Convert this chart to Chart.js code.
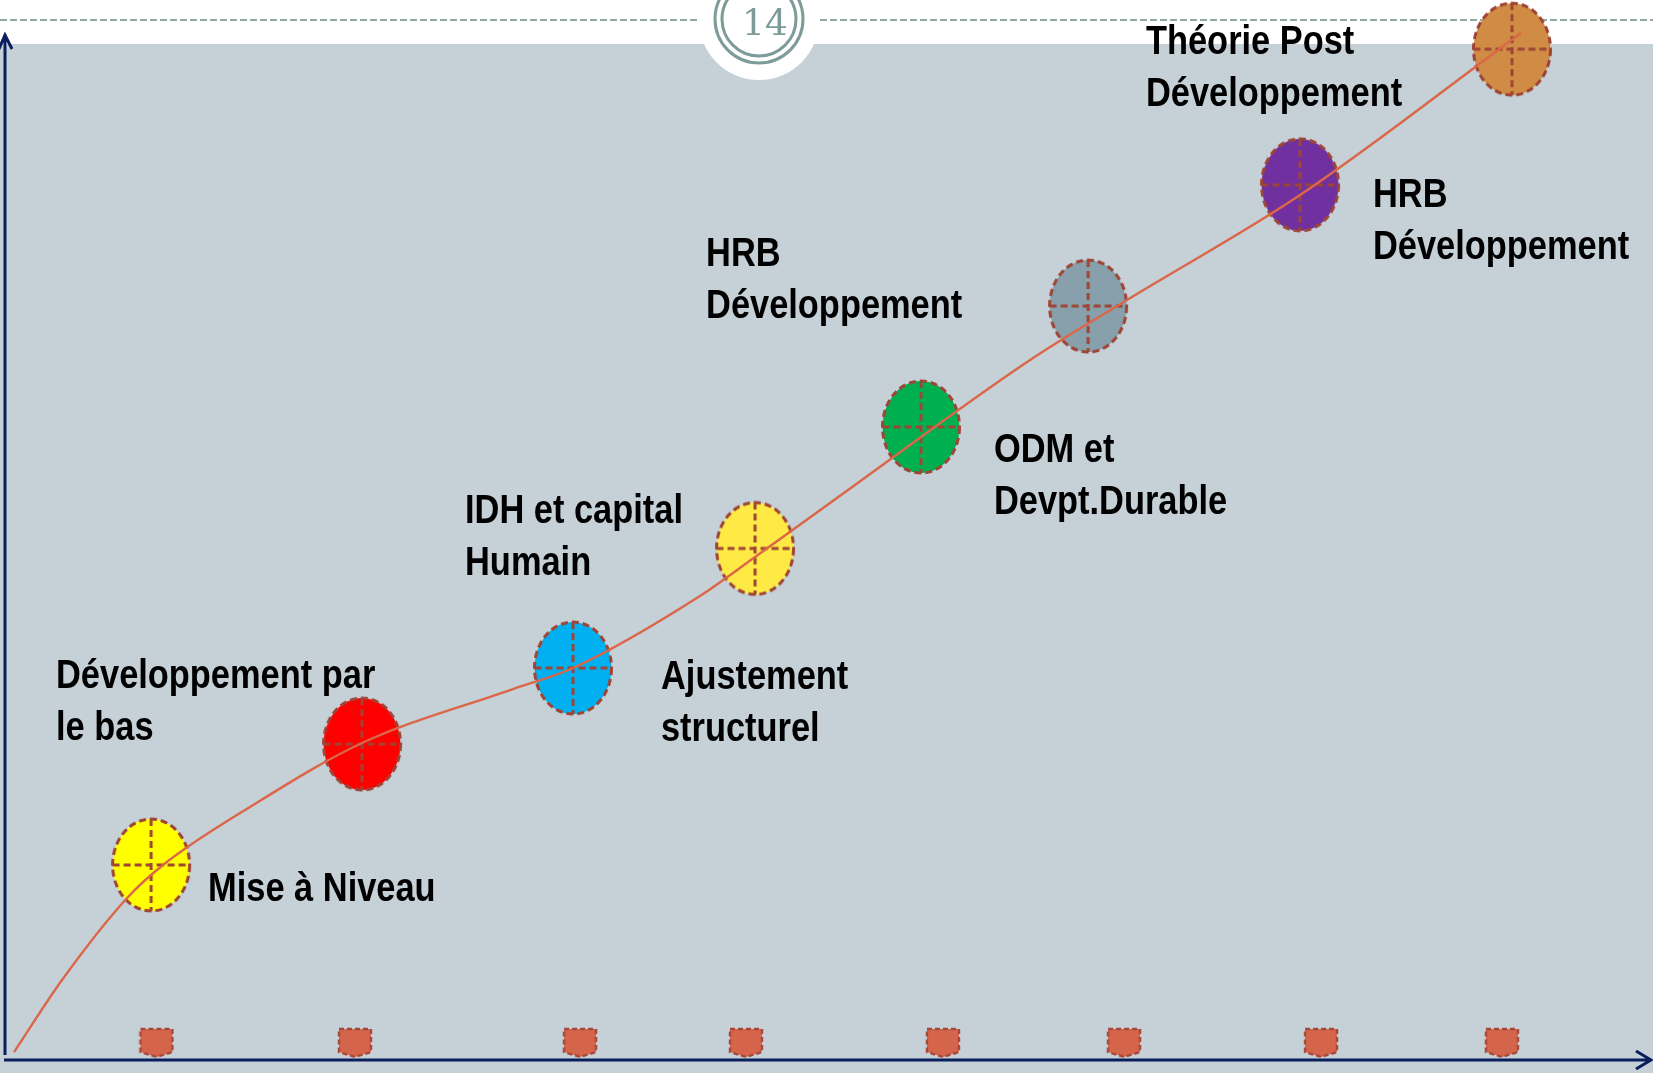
<!DOCTYPE html>
<html>
<head>
<meta charset="utf-8">
<script src="https://cdn.jsdelivr.net/npm/chart.js@4"></script>
<style>
html, body { margin: 0; padding: 0; background: #c5d0d7; overflow: hidden; }
</style>
</head>
<body>
<canvas id="myChart" width="1653" height="1073"></canvas>
<script>
//========== data ==========//

// stages (ellipses)
const stageX = [8.89, 21.73, 34.57, 45.65, 55.75, 65.92, 78.82, 91.72];
const stageY = [19.12, 30.98, 38.43, 50.15, 62.06, 73.92, 85.8, 99.1];
const stageColors = ['#ffff00', '#ff0000', '#00b0f0', '#ffe945', '#00b050', '#87a0ab', '#7030a0', '#d08c45'];
const stageLabels = [
    ['Mise à Niveau'],
    ['Développement par', 'le bas'],
    ['Ajustement', 'structurel'],
    ['IDH et capital', 'Humain'],
    ['ODM et', 'Devpt.Durable'],
    ['HRB', 'Développement'],
    ['HRB', 'Développement'],
    ['Théorie Post', 'Développement']
];

// trend curve
const curveX = [0.55, 3.47, 7.43, 9.62, 14.91, 21.73, 30.74, 34.57, 42.3, 45.65, 51.31, 62.39, 68.29, 78.82, 92.27];
const curveY = [0.78, 7.84, 15.88, 19.12, 24.8, 31.08, 36.27, 38.43, 45.49, 49.31, 55.88, 68.63, 74.51, 84.8, 100.69];

// markers on the time axis
const markerX = [9.22, 21.3, 35.0, 45.1, 57.09, 68.11, 80.1, 91.11];
const markerY = [1.67, 1.67, 1.67, 1.67, 1.67, 1.67, 1.67, 1.67];

// label offsets from each ellipse (px)
const labelOffsets = [[57, 36], [-306, -56], [88, 21], [-290, -25], [73, 35], [-382, -40], [73, 22], [-366, 5]];

//========== point images ==========//

function ellipseImg(fill) {
    const c = document.createElement('canvas');
    c.width = 84; c.height = 98;
    const ctx = c.getContext('2d');
    const cx = 42, cy = 49, rx = 38.5, ry = 46;
    ctx.beginPath();
    ctx.ellipse(cx, cy, rx, ry, 0, 0, Math.PI * 2);
    ctx.fillStyle = fill;
    ctx.fill();
    ctx.strokeStyle = '#9e4535';
    ctx.lineWidth = 3;
    ctx.setLineDash([7, 4]);
    ctx.stroke();
    ctx.beginPath();
    ctx.moveTo(cx - rx, cy); ctx.lineTo(cx + rx, cy);
    ctx.moveTo(cx, cy - ry); ctx.lineTo(cx, cy + ry);
    ctx.stroke();
    return c;
}

function shieldImg() {
    const c = document.createElement('canvas');
    c.width = 36; c.height = 32;
    const ctx = c.getContext('2d');
    ctx.beginPath();
    ctx.moveTo(2, 2); ctx.lineTo(34, 2); ctx.lineTo(34, 25);
    ctx.lineTo(18, 30); ctx.lineTo(2, 25); ctx.closePath();
    ctx.fillStyle = '#d4644a';
    ctx.fill();
    ctx.strokeStyle = '#a8473a';
    ctx.lineWidth = 2.4;
    ctx.setLineDash([5, 3]);
    ctx.stroke();
    return c;
}

const shield = shieldImg();

//========== plugins ==========//

const slideDeco = {
    id: 'slideDeco',
    beforeDatasetsDraw(chart) {
        const ctx = chart.ctx;
        ctx.save();
        ctx.fillStyle = '#c5d0d7';
        ctx.fillRect(0, 0, chart.width, chart.height);
        ctx.fillStyle = '#ffffff';
        ctx.fillRect(0, 0, chart.width, 44);
        // dashed line
        ctx.strokeStyle = '#8fa8a6';
        ctx.lineWidth = 2;
        ctx.setLineDash([7, 3]);
        ctx.beginPath();
        ctx.moveTo(0, 20); ctx.lineTo(chart.width, 20);
        ctx.stroke();
        ctx.setLineDash([]);
        // page badge
        ctx.beginPath();
        ctx.arc(759, 20, 60, 0, Math.PI * 2);
        ctx.fillStyle = '#ffffff';
        ctx.fill();
        ctx.strokeStyle = '#7d9b98';
        ctx.lineWidth = 3;
        ctx.beginPath(); ctx.arc(759, 19, 44, 0, Math.PI * 2); ctx.stroke();
        ctx.beginPath(); ctx.arc(759, 19, 37, 0, Math.PI * 2); ctx.stroke();
        ctx.fillStyle = '#7d9b98';
        ctx.font = '36px "DejaVu Serif", serif';
        ctx.textAlign = 'center';
        ctx.textBaseline = 'alphabetic';
        ctx.fillText('14', 765, 35);
        // axes
        const a = chart.chartArea;
        ctx.strokeStyle = '#0b1f5c';
        ctx.lineWidth = 3;
        ctx.beginPath();
        ctx.moveTo(a.left, a.bottom - 5); ctx.lineTo(a.left, 34);
        ctx.moveTo(a.left - 6, 49); ctx.lineTo(a.left, 35); ctx.lineTo(a.left + 7, 49);
        ctx.moveTo(a.left - 1, a.bottom); ctx.lineTo(chart.width - 2, a.bottom);
        ctx.moveTo(chart.width - 17, a.bottom - 9); ctx.lineTo(chart.width - 2, a.bottom); ctx.lineTo(chart.width - 17, a.bottom + 9);
        ctx.stroke();
        ctx.restore();
    },
    afterDatasetsDraw(chart) {
        const ctx = chart.ctx;
        const pts = chart.getDatasetMeta(1).data;
        ctx.save();
        ctx.fillStyle = '#000000';
        ctx.font = 'bold 40px "Liberation Sans", Arial, sans-serif';
        ctx.textAlign = 'left';
        ctx.textBaseline = 'alphabetic';
        stageLabels.forEach((lines, i) => {
            const p = pts[i];
            lines.forEach((t, j) => {
                ctx.save();
                ctx.translate(p.x + labelOffsets[i][0], p.y + labelOffsets[i][1] + j * 52);
                ctx.scale(0.86, 1); // narrow face
                ctx.fillText(t, 0, 0);
                ctx.restore();
            });
        });
        ctx.restore();
    }
};

//========== chart ==========//

const config = {
    type: 'scatter',
    data: {
        datasets: [{
            label: 'courbe',
            data: curveX.map((x, i) => ({ x, y: curveY[i] })),
            showLine: true,
            cubicInterpolationMode: 'monotone',
            borderColor: '#dc6648',
            borderWidth: 2.4,
            pointRadius: 0,
            order: 0
        }, {
            label: 'étapes',
            data: stageX.map((x, i) => ({ x, y: stageY[i] })),
            pointStyle: stageColors.map(ellipseImg),
            pointRadius: 10,
            order: 1
        }, {
            label: 'repères',
            data: markerX.map((x, i) => ({ x, y: markerY[i] })),
            pointStyle: shield,
            pointRadius: 10,
            order: 2
        }]
    },
    options: {
        responsive: false,
        animation: false,
        devicePixelRatio: 1,
        clip: false,
        layout: { autoPadding: false, padding: { left: 5, right: 5, top: 40, bottom: 13 } },
        scales: {
            x: { type: 'linear', min: 0, max: 100, display: false },
            y: { type: 'linear', min: 0, max: 100, display: false }
        },
        plugins: {
            legend: { display: false },
            tooltip: { enabled: false }
        }
    },
    plugins: [slideDeco]
};

const myChart = new Chart(document.getElementById('myChart'), config);
</script>
</body>
</html>
